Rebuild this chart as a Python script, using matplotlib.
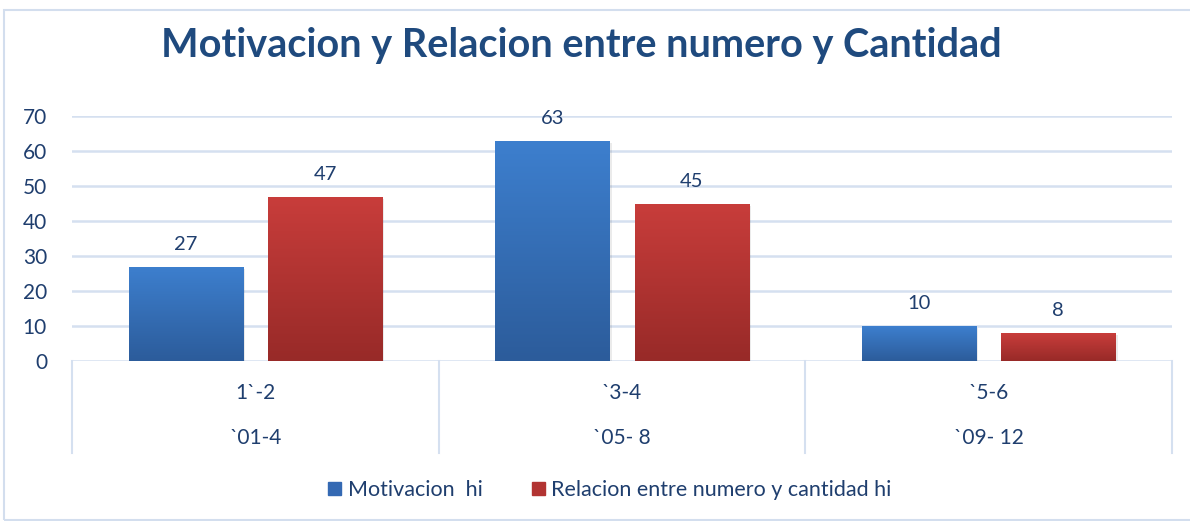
import numpy as np
import matplotlib.pyplot as plt
from matplotlib.patches import Rectangle
from matplotlib.colors import LinearSegmentedColormap

# data
inner_labels = ["1`-2", "`3-4", "`5-6"]
outer_labels = ["`01-4", "`05- 8", "`09- 12"]
motivacion = [27, 63, 10]
relacion = [47, 45, 8]
series_names = ["Motivacion  hi", "Relacion entre numero y cantidad hi"]

text_col = "#1F3E6E"
grid_col = "#D5E0F0"

plt.rcParams['font.family'] = ['Lato', 'DejaVu Sans']

fig = plt.figure(figsize=(11.9, 5.21), dpi=100)
# outer chart border
fig.patches.append(Rectangle((4 / 1190, 0.002), 1.0, 1 - 10 / 521 - 0.002, transform=fig.transFigure,
                             fill=False, edgecolor="#D3DEEE", lw=1.5))

ax = fig.add_axes([72 / 1190, 1 - 361 / 521, 1100 / 1190, 245 / 521])
x = np.arange(len(inner_labels))
w = 0.311
off = 0.19

blue_cm = LinearSegmentedColormap.from_list("b", ["#2C5C9B", "#3D7FCE"])
red_cm = LinearSegmentedColormap.from_list("r", ["#982A28", "#C83D3B"])
grad = np.linspace(0, 1, 100).reshape(-1, 1)

for vals, dx, cm in [(motivacion, -off, blue_cm), (relacion, off, red_cm)]:
    bars = ax.bar(x + dx, vals, width=w, color="none", zorder=3)
    for b, v in zip(bars, vals):
        # soft shadow
        ax.add_patch(Rectangle((b.get_x() + 0.006, -0.9), b.get_width(), v + 0.3,
                               facecolor="#000000", alpha=0.08, zorder=2, lw=0))
        im = ax.imshow(grad, extent=[b.get_x(), b.get_x() + b.get_width(), 0, v],
                       origin="lower", cmap=cm, aspect="auto", zorder=3)
        im.set_clip_path(b)
        ax.annotate(str(v), (b.get_x() + b.get_width() / 2, v), xytext=(0, 10),
                    textcoords="offset points", ha="center", va="bottom",
                    fontsize=14.5, color=text_col)

ax.set_xlim(-0.5, 2.5)
ax.set_ylim(0, 70)
ax.set_yticks(range(0, 71, 10))
ax.yaxis.grid(True, color=grid_col, lw=1.8, zorder=0)
ax.set_axisbelow(True)
for s in ax.spines.values():
    s.set_visible(False)
ax.tick_params(axis="y", length=0, labelsize=15, labelcolor=text_col, pad=18)
ax.set_xticks([])

# category separators and two-level labels
sep_y = -92 / 245
for xs in np.arange(-0.5, 3.0, 1.0):
    ax.plot([xs, xs], [0, sep_y], transform=ax.get_xaxis_transform(),
            color=grid_col, lw=1.5, clip_on=False)
for i in x:
    ax.text(i, -32 / 245, inner_labels[i], transform=ax.get_xaxis_transform(),
            ha="center", va="center", fontsize=15, color=text_col)
    ax.text(i, -77 / 245, outer_labels[i], transform=ax.get_xaxis_transform(),
            ha="center", va="center", fontsize=15, color=text_col)

fig.text(581 / 1190, 1 - 45 / 521, "Motivacion y Relacion entre numero y Cantidad",
         ha="center", va="center", fontsize=28.5, fontweight="bold", color="#1F4A7E")

# legend
handles = [Rectangle((0, 0), 1, 1, color="#3469B3"), Rectangle((0, 0), 1, 1, color="#B23432")]
fig.legend(handles, series_names, loc="center", bbox_to_anchor=(610 / 1190, 1 - 490 / 521),
           ncol=2, frameon=False, fontsize=15.5, labelcolor=text_col,
           handlelength=0.6, handleheight=0.6, handletextpad=0.3, columnspacing=2.3)

fig.savefig("out.png", dpi=100)
